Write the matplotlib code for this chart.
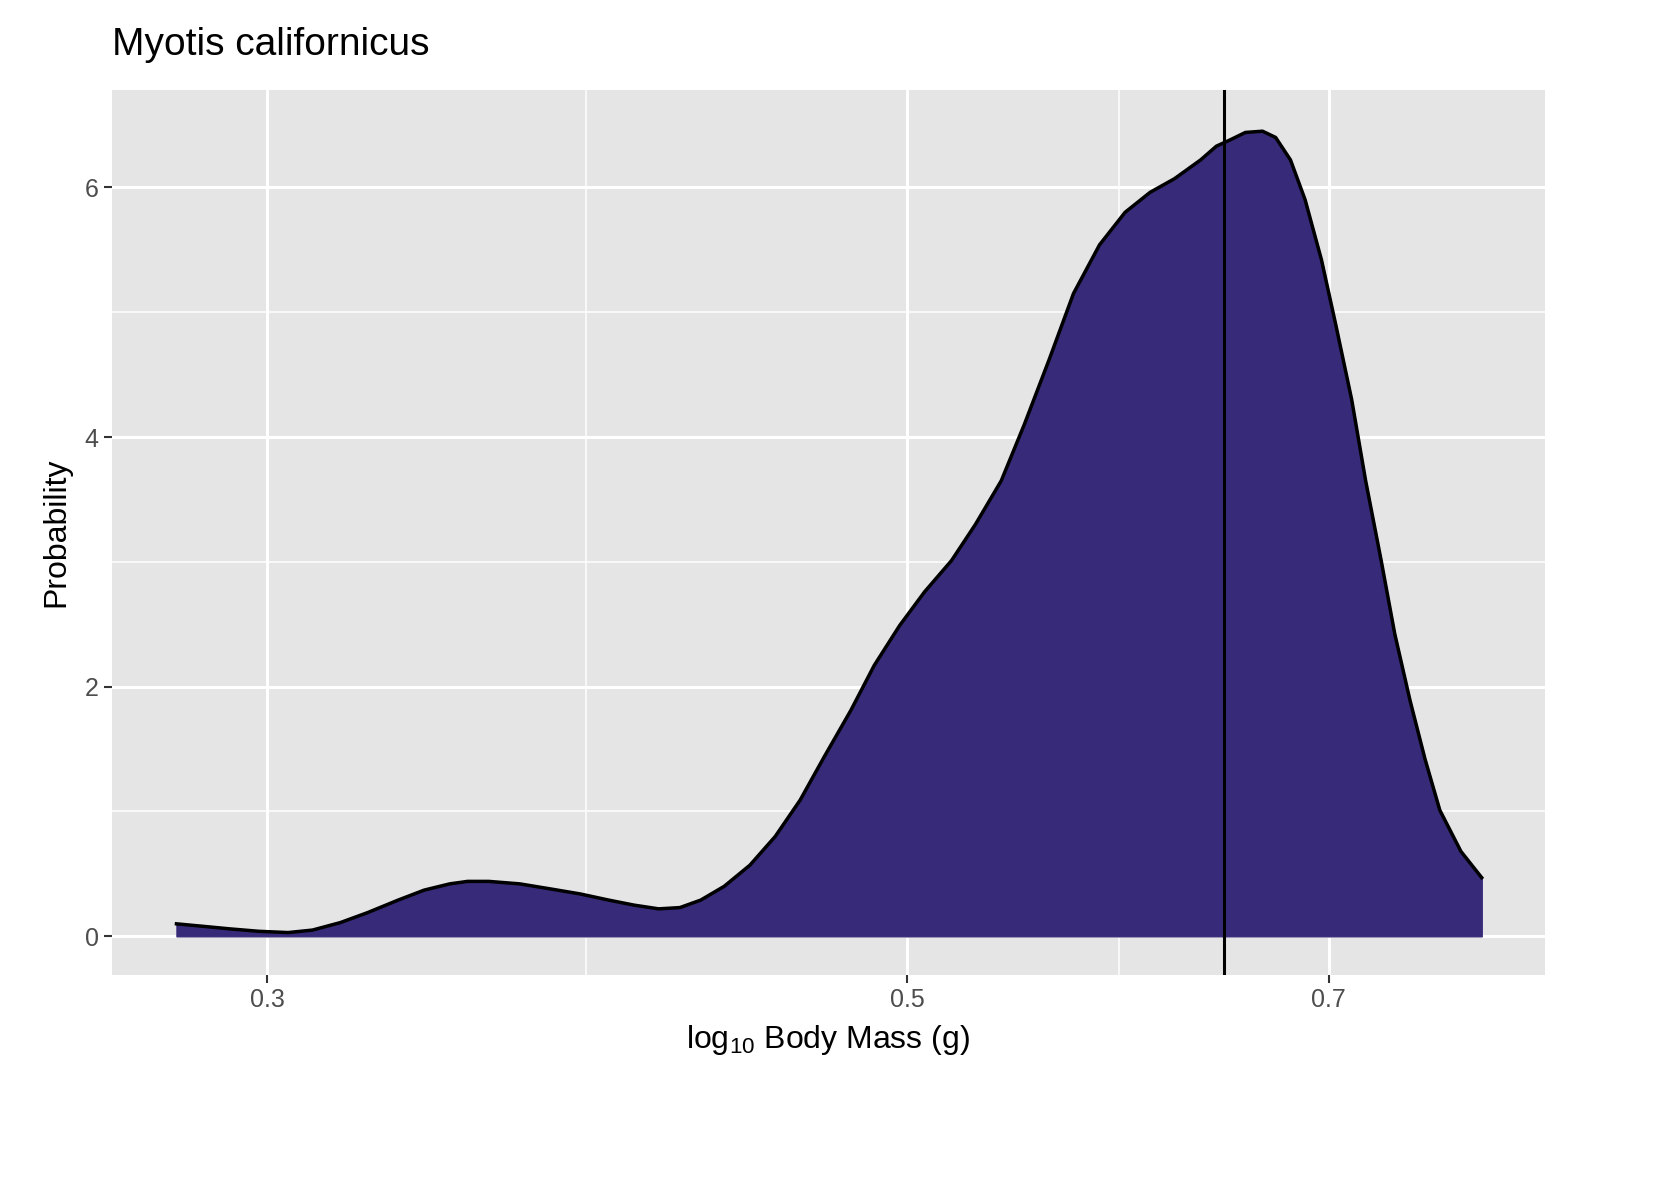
import numpy as np
from matplotlib import pyplot as plt
from matplotlib.ticker import FixedLocator, NullFormatter

plt.rcParams['font.family'] = ['Liberation Sans', 'DejaVu Sans']
plt.rcParams['mathtext.fontset'] = 'custom'
plt.rcParams['mathtext.rm'] = 'Liberation Sans'

# density curve
mass = [0.279, 0.285, 0.291, 0.298, 0.305, 0.311, 0.318, 0.325, 0.333, 0.340,
        0.347, 0.352, 0.358, 0.367, 0.376, 0.385, 0.394, 0.402, 0.410, 0.417,
        0.424, 0.432, 0.441, 0.450, 0.459, 0.468, 0.478, 0.487, 0.497, 0.507,
        0.518, 0.528, 0.539, 0.549, 0.560, 0.571, 0.583, 0.595, 0.607, 0.619,
        0.632, 0.640, 0.647, 0.655, 0.664, 0.671, 0.679, 0.687, 0.696, 0.704,
        0.713, 0.721, 0.730, 0.738, 0.747, 0.756, 0.765, 0.778, 0.791]
density = [0.10, 0.08, 0.06, 0.04, 0.03, 0.05, 0.11, 0.19, 0.29, 0.37,
           0.42, 0.44, 0.44, 0.42, 0.38, 0.34, 0.29, 0.25, 0.22, 0.23,
           0.29, 0.40, 0.57, 0.80, 1.09, 1.44, 1.81, 2.17, 2.49, 2.76,
           3.01, 3.30, 3.65, 4.10, 4.62, 5.15, 5.54, 5.80, 5.96, 6.07,
           6.22, 6.33, 6.38, 6.44, 6.45, 6.40, 6.22, 5.90, 5.42, 4.90,
           4.30, 3.65, 3.01, 2.42, 1.89, 1.42, 1.01, 0.68, 0.47]
species_mean = 0.644
x_ticks = [0.3, 0.5, 0.7]
x_minor = [0.387, 0.592]
y_ticks = [0, 2, 4, 6]
y_minor = [1, 3, 5]

fig = plt.figure(figsize=(16.53, 11.81), dpi=100)
ax = fig.add_axes([112/1653, 1 - 975/1181, (1545-112)/1653, (975-90)/1181])
ax.set_facecolor('#e5e5e5')
ax.set_xscale('log')
ax.set_xlim(0.265, 0.832)
ax.set_ylim(-0.31, 6.78)

ax.xaxis.set_major_locator(FixedLocator(x_ticks))
ax.xaxis.set_minor_locator(FixedLocator(x_minor))
ax.xaxis.set_minor_formatter(NullFormatter())
ax.set_xticklabels(['0.3', '0.5', '0.7'])
ax.set_yticks(y_ticks)
ax.set_yticks(y_minor, minor=True)
ax.grid(which='major', color='white', linewidth=2.2)
ax.grid(which='minor', color='white', linewidth=1.1)
ax.set_axisbelow(True)
for s in ax.spines.values():
    s.set_visible(False)
ax.tick_params(which='major', length=6, width=1.5, color='#333333', labelsize=18,
               labelcolor='#4d4d4d')
ax.tick_params(which='minor', length=0)

ax.fill_between(mass, 0, density, color='#372a78', zorder=2)
ax.plot(mass, density, color='black', linewidth=2.5, zorder=3)
ax.axvline(species_mean, color='black', linewidth=2.2, zorder=4)

ax.set_xlabel(r'$\mathregular{log_{10}}$ Body Mass (g)', fontsize=23, labelpad=8)
ax.set_ylabel('Probability', fontsize=23, labelpad=10)
fig.text(112/1653, 1 - 45/1181, 'Myotis californicus', fontsize=28, va='center')

fig.savefig('out.png', dpi=100)
